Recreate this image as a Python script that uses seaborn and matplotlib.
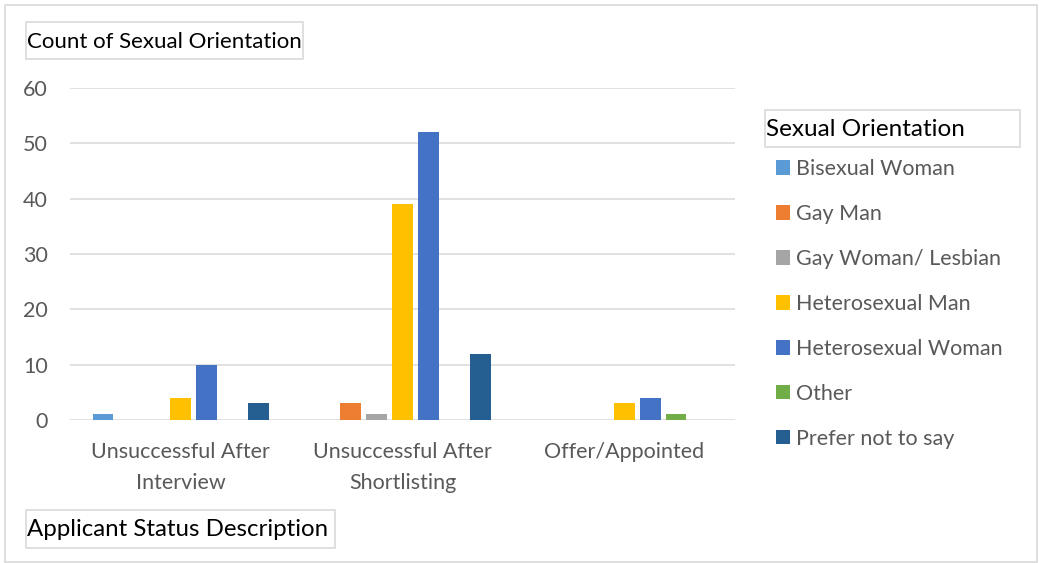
import numpy as np
import pandas as pd
import matplotlib
matplotlib.use("Agg")
import matplotlib.pyplot as plt
import seaborn as sns
from matplotlib.patches import Rectangle, Patch

# ---- data ----
categories = ["Unsuccessful After\nInterview", "Unsuccessful After\nShortlisting", "Offer/Appointed"]
series = ["Bisexual Woman", "Gay Man", "Gay Woman/ Lesbian", "Heterosexual Man",
          "Heterosexual Woman", "Other", "Prefer not to say"]
bisexual_woman = [1, 0, 0]
gay_man = [0, 3, 0]
gay_woman_lesbian = [0, 1, 0]
heterosexual_man = [4, 39, 3]
heterosexual_woman = [10, 52, 4]
other = [0, 0, 1]
prefer_not_to_say = [3, 12, 0]
yticks = [0, 10, 20, 30, 40, 50, 60]
colors = ["#5B9BD5", "#ED7D31", "#A5A5A5", "#FFC000", "#4472C4", "#70AD47", "#255E91"]

values = [bisexual_woman, gay_man, gay_woman_lesbian, heterosexual_man,
          heterosexual_woman, other, prefer_not_to_say]
rows = []
for s, vals in zip(series, values):
    for c, v in zip(categories, vals):
        rows.append({"status": c, "orientation": s, "count": v})
df = pd.DataFrame(rows)

W, H = 1039, 563
sns.set_theme(style="white")
plt.rcParams['font.family'] = ['Lato', 'DejaVu Sans']

fig = plt.figure(figsize=(W / 100, H / 100), dpi=100)
fig.patch.set_facecolor("white")

def fx(px):
    return px / W

def fy(py):
    return 1 - py / H

ax = fig.add_axes([fx(70), fy(420), fx(665), 332 / H])
sns.barplot(data=df, x="status", y="count", hue="orientation", order=categories,
            hue_order=series, palette=colors, width=0.82, gap=0.2, saturation=1,
            linewidth=0, legend=False, ax=ax, errorbar=None)
ax.set_xlim(-0.5, 2.5)
ax.set_ylim(0, 60)
ax.set_yticks(yticks)
ax.grid(axis="y", color="#D9D9D9", linewidth=1.1)
ax.set_axisbelow(True)
for sp in ax.spines.values():
    sp.set_visible(False)
ax.tick_params(axis="both", length=0, labelsize=15.5, labelcolor="#595959")
ax.tick_params(axis="y", pad=16)
ax.tick_params(axis="x", pad=16)
ax.set_xlabel("")
ax.set_ylabel("")
for lab in ax.get_xticklabels():
    lab.set_linespacing(1.65)

# legend
handles = [Patch(facecolor=c, edgecolor="none") for c in colors]
fig.legend(handles, series, loc="upper left", bbox_to_anchor=(fx(776), fy(159)),
           frameon=False, handlelength=0.65, handleheight=0.65, handletextpad=0.3,
           labelspacing=1.16, fontsize=15.5, labelcolor="#595959",
           borderaxespad=0, borderpad=0)

# boxed titles
def boxed(x0, y0, x1, y1, text, size=16):
    fig.patches.append(Rectangle((fx(x0), fy(y1)), fx(x1 - x0), (y1 - y0) / H,
                                 transform=fig.transFigure, facecolor="white",
                                 edgecolor="#D9D9D9", linewidth=1.2))
    fig.text(fx(x0 + 1), fy((y0 + y1) / 2 + 1), text, ha="left", va="center",
             fontsize=size, color="black")

boxed(26, 22, 303, 59, "Count of Sexual Orientation", 16)
boxed(765, 110, 1020, 147, "Sexual Orientation", 17.5)
boxed(26, 510, 335, 548, "Applicant Status Description", 17.3)

# outer frame
fig.patches.append(Rectangle((fx(5), fy(562)), fx(1032), 557 / H,
                             transform=fig.transFigure, facecolor="none",
                             edgecolor="#D9D9D9", linewidth=1.2))

fig.savefig("out.png", dpi=100)
